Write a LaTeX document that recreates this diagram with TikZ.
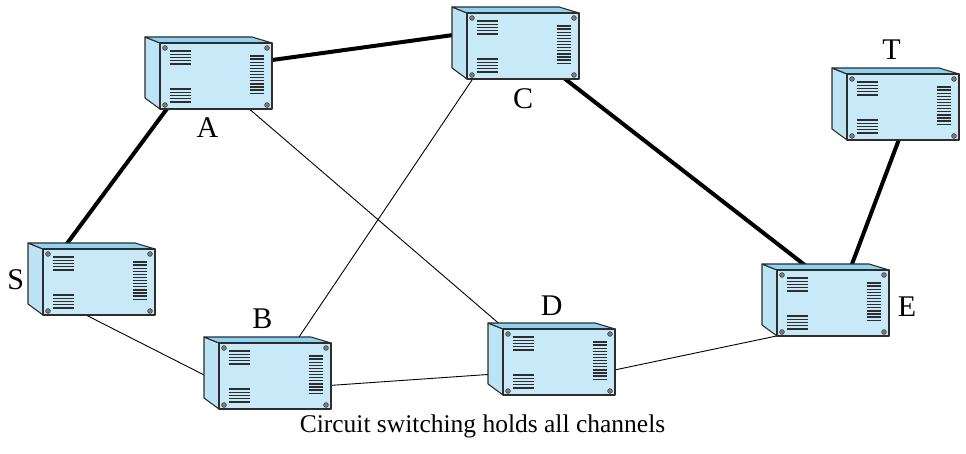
\documentclass[tikz,border=0pt]{standalone}
\usepackage{fontspec}
\setmainfont{Liberation Serif}
\usetikzlibrary{calc}

\definecolor{frontcol}{RGB}{200,234,248}
\definecolor{topcol}{RGB}{140,212,242}
\definecolor{sidecol}{RGB}{188,228,245}
\definecolor{edgecol}{RGB}{45,45,45}
\definecolor{screwcol}{RGB}{125,125,125}

\tikzset{
  faceanchor/.style={minimum width=112pt, minimum height=66pt, inner sep=0pt, outer sep=0pt},
  boxedge/.style={draw=edgecol, line width=1.1pt, line join=round},
  vent/.style={draw=edgecol, line width=1.25pt},
  screw/.style={fill=screwcol, draw=edgecol, line width=0.5pt},
  thickwire/.style={draw=black, line width=4pt},
  thinwire/.style={draw=black, line width=0.9pt},
  lbl/.style={font=\fontsize{30}{30}\selectfont, anchor=base, inner sep=0pt},
  caption/.style={font=\fontsize{25.5}{26}\selectfont, anchor=base, inner sep=0pt},
}

% Draw a switch cabinet around the front-face node #1
\newcommand\devicebox[1]{%
  \filldraw[fill=sidecol, boxedge] (#1.north west) -- ++(-15,-6)
    -- ($(#1.south west)+(-15,-11)$) -- (#1.south west) -- cycle;
  \filldraw[fill=topcol, boxedge] (#1.north west) -- ++(-15,-6)
    -- ($(#1.north east)+(-20,-6)$) -- (#1.north east) -- cycle;
  \filldraw[fill=frontcol, boxedge] (#1.north west) rectangle (#1.south east);
  \foreach \k in {0,...,4} {
    \draw[vent] ($(#1.north west)+(9.5,8+3.25*\k)$) -- ++(21.5,0);
    \draw[vent] ($(#1.north west)+(9.5,46+3.25*\k)$) -- ++(21.5,0);
  }
  \foreach \k in {0,...,12}
    \draw[vent] ($(#1.north east)+(-22.5,13+3.1*\k)$) -- ++(14,0);
  \filldraw[screw] ($(#1.north west)+(5,5)$) circle (2.4);
  \filldraw[screw] ($(#1.north east)+(-5,5)$) circle (2.4);
  \filldraw[screw] ($(#1.south west)+(5,-4)$) circle (2.4);
  \filldraw[screw] ($(#1.south east)+(-5,-4)$) circle (2.4);
}

\begin{document}
\begin{tikzpicture}[x=1pt, y=-1pt]
  \useasboundingbox (0,0) rectangle (966,454);

  % front faces of the switches
  \node[faceanchor] (S) at (99,282) {};
  \node[faceanchor] (A) at (216,76) {};
  \node[faceanchor] (C) at (523,46) {};
  \node[faceanchor] (E) at (833,303) {};
  \node[faceanchor] (B) at (275,376) {};
  \node[faceanchor] (D) at (559,362) {};
  \node[faceanchor] (T) at (903,107) {};

  % reserved circuit (thick) and idle links (thin)
  \draw[thickwire] ($(S.north west)+(17,4)$) -- ($(A.north west)+(12,59)$);
  \draw[thickwire] ($(A.north west)+(105,18)$) -- ($(C.north west)+(8,19)$);
  \draw[thickwire] ($(C.north west)+(93,62)$) -- ($(E.north west)+(38,3)$);
  \draw[thickwire] ($(E.north west)+(72,2)$) -- ($(T.north west)+(54,60)$);

  \draw[thinwire] ($(A.north west)+(80,58)$) -- ($(D.north west)+(7,4)$);
  \draw[thinwire] ($(C.north west)+(9,61)$) -- ($(B.north west)+(74,3)$);
  \draw[thinwire] ($(S.north west)+(37,63)$) -- ($(B.north west)+(-7,36)$);
  \draw[thinwire] ($(B.north west)+(103,43)$) -- ($(D.north west)+(-8,45)$);
  \draw[thinwire] ($(D.north west)+(102,43)$) -- ($(E.north west)+(9,64)$);

  % cabinets
  \devicebox{S}
  \devicebox{A}
  \devicebox{C}
  \devicebox{E}
  \devicebox{B}
  \devicebox{D}
  \devicebox{T}

  % labels
  \node[lbl] (lS) at (15.8,289.5) {S};
  \node[lbl] (lA) at (207.5,138) {A};
  \node[lbl] (lC) at (523,109) {C};
  \node[lbl] (lE) at (907,316.5) {E};
  \node[lbl] (lB) at (262.5,328) {B};
  \node[lbl] (lD) at (551.7,315) {D};
  \node[lbl] (lT) at (891.5,60) {T};

  \node[caption] (cap) at (482.5,432) {Circuit switching holds all channels};
\end{tikzpicture}
\end{document}
